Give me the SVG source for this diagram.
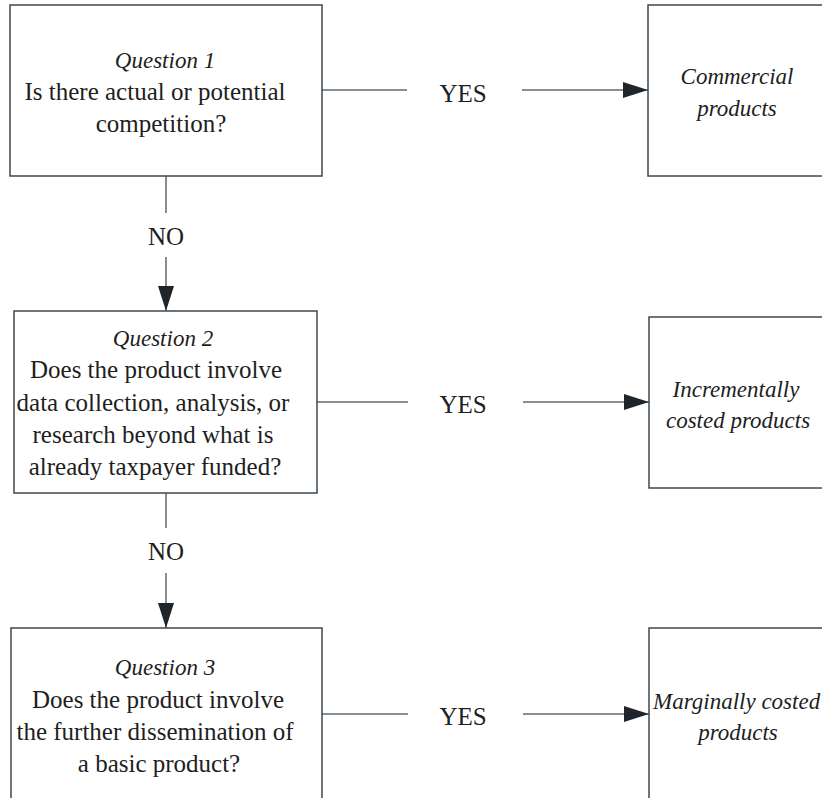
<svg xmlns="http://www.w3.org/2000/svg" width="822" height="798" viewBox="0 0 822 798">
  <defs>
    <style>
      .box { fill: #ffffff; stroke: #3d4850; stroke-width: 1.5; }
      .con { fill: none; stroke: #5f6a72; stroke-width: 1.5; }
      .t { font-family: "Liberation Serif", "Times New Roman", serif; font-size: 25px; fill: #1e1e1e; text-anchor: middle; }
      .i { font-family: "Liberation Serif", "Times New Roman", serif; font-size: 23px; font-style: italic; fill: #1e1e1e; text-anchor: middle; }
    </style>
    <marker id="arr" markerUnits="userSpaceOnUse" markerWidth="26" markerHeight="18" refX="25" refY="8" orient="auto">
      <path d="M0,0 L25,8 L0,16 z" fill="#1f262b"/>
    </marker>
  </defs>
  <rect width="822" height="798" fill="#ffffff"/>

  <g id="connectors">
    <line class="con" x1="322" y1="90" x2="407" y2="90"/>
    <line class="con" x1="522" y1="90" x2="648" y2="90" marker-end="url(#arr)"/>
    <line class="con" x1="317" y1="402" x2="408" y2="402"/>
    <line class="con" x1="523" y1="402" x2="649" y2="402" marker-end="url(#arr)"/>
    <line class="con" x1="322" y1="714" x2="408" y2="714"/>
    <line class="con" x1="523" y1="714" x2="649" y2="714" marker-end="url(#arr)"/>
    <line class="con" x1="166" y1="176" x2="166" y2="213"/>
    <line class="con" x1="166" y1="257" x2="166" y2="311" marker-end="url(#arr)"/>
    <line class="con" x1="166" y1="493" x2="166" y2="528"/>
    <line class="con" x1="166" y1="573" x2="166" y2="628" marker-end="url(#arr)"/>
    <text class="t" x="463" y="102">YES</text>
    <text class="t" x="463" y="413">YES</text>
    <text class="t" x="463" y="725">YES</text>
    <text class="t" x="166" y="245">NO</text>
    <text class="t" x="166" y="560">NO</text>
  </g>

  <g id="q1">
    <rect class="box" x="10" y="5" width="312" height="171"/>
    <text class="i" x="165" y="68">Question 1</text>
    <text class="t" x="155" y="100">Is there actual or potential</text>
    <text class="t" x="161" y="132">competition?</text>
  </g>

  <g id="commercial">
    <rect class="box" x="648" y="5" width="190" height="171"/>
    <text class="i" x="737" y="84">Commercial</text>
    <text class="i" x="737" y="116">products</text>
  </g>

  <g id="q2">
    <rect class="box" x="14" y="311" width="303" height="182"/>
    <text class="i" x="163" y="346">Question 2</text>
    <text class="t" x="156" y="378">Does the product involve</text>
    <text class="t" x="153" y="411">data collection, analysis, or</text>
    <text class="t" x="153" y="443">research beyond what is</text>
    <text class="t" x="155" y="475">already taxpayer funded?</text>
  </g>

  <g id="incremental">
    <rect class="box" x="649" y="317" width="190" height="171"/>
    <text class="i" x="736" y="397">Incrementally</text>
    <text class="i" x="738" y="428">costed products</text>
  </g>

  <g id="q3">
    <rect class="box" x="11" y="628" width="311" height="190"/>
    <text class="i" x="165" y="675">Question 3</text>
    <text class="t" x="158" y="708">Does the product involve</text>
    <text class="t" x="155" y="740">the further dissemination of</text>
    <text class="t" x="159" y="772">a basic product?</text>
  </g>

  <g id="marginal">
    <rect class="box" x="649" y="628" width="190" height="190"/>
    <text class="i" x="653" y="709" style="text-anchor:start">Marginally costed</text>
    <text class="i" x="738" y="740">products</text>
  </g>
</svg>
